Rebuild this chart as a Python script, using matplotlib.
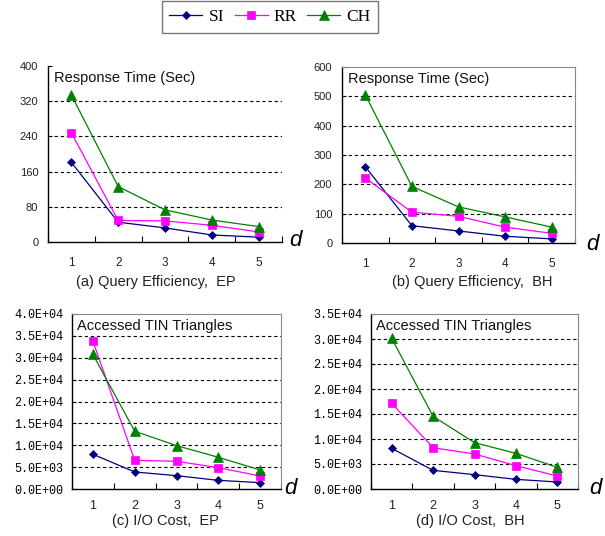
import matplotlib
matplotlib.use('Agg')
import matplotlib.pyplot as plt
from matplotlib.ticker import FuncFormatter, MultipleLocator
import numpy as np

# category values d = 1..5
d_values = [1, 2, 3, 4, 5]
series_names = ['SI', 'RR', 'CH']

# (a) response time, EP
time_ep_si = [181, 45, 32, 16, 11]
time_ep_rr = [248, 49, 48, 38, 23]
time_ep_ch = [334, 126, 73, 50, 35]

# (b) response time, BH
time_bh_si = [260, 59, 41, 23, 14]
time_bh_rr = [222, 105, 91, 54, 33]
time_bh_ch = [505, 193, 123, 89, 54]

# (c) accessed triangles, EP
io_ep_si = [7940, 3890, 3050, 1980, 1450]
io_ep_rr = [33800, 6560, 6330, 4880, 2980]
io_ep_ch = [30760, 13200, 9920, 7250, 4350]

# (d) accessed triangles, BH
io_bh_si = [8130, 3730, 2870, 1930, 1400]
io_bh_rr = [17130, 8270, 7000, 4670, 2600]
io_bh_ch = [30130, 14530, 9270, 7130, 4330]

W, H = 605, 536
colors = ['#000080', '#FF00FF', '#008000']
markers = ['D', 's', '^']
msizes = [4.5, 6, 6.5]


def px_axes(fig, left, right, top, bottom):
    return fig.add_axes([left / W, 1 - bottom / H, (right - left) / W, (bottom - top) / H])


def sci_fmt(v, pos):
    if v == 0:
        return '0.0E+00'
    exp = int(np.floor(np.log10(abs(v))))
    return '%.1fE+%02d' % (v / 10 ** exp, exp)


def draw_panel(ax, data, ymax, ystep, inner_title, sci, boxed):
    for vals, c, m, ms in zip(data, colors, markers, msizes):
        ax.plot(d_values, vals, color=c, marker=m, markersize=ms, lw=0.9,
                markeredgewidth=0.5, zorder=3)
    ax.set_xlim(0.5, 5.5)
    ax.set_ylim(0, ymax)
    ax.yaxis.set_major_locator(MultipleLocator(ystep))
    for g in np.arange(ystep, ymax, ystep):
        ax.axhline(g, color='black', lw=0.8, ls=(0, (3, 2.5)), zorder=1)
    ax.set_xticks(d_values)
    ax.set_xticks([0.5, 1.5, 2.5, 3.5, 4.5, 5.5], minor=True)
    ax.tick_params(axis='x', which='minor', length=4, direction='in', width=0.8)
    ax.tick_params(axis='y', length=3, direction='in', width=0.8)
    if sci:
        ax.yaxis.set_major_formatter(FuncFormatter(sci_fmt))
        for lab in ax.get_yticklabels():
            lab.set_fontfamily('Liberation Mono')
        ax.tick_params(axis='y', labelsize=8.5, pad=6)
        ax.tick_params(axis='x', which='major', length=0, pad=8, labelsize=9, labelcolor='#222222')
    else:
        ax.tick_params(axis='y', labelsize=8, pad=7, labelcolor='#222222')
        ax.tick_params(axis='x', which='major', length=0, pad=11, labelsize=8.5, labelcolor='#222222')
    for s in ['left', 'bottom']:
        ax.spines[s].set_linewidth(1.0)
    if boxed:
        for s in ['top', 'right']:
            ax.spines[s].set_color('#888888')
            ax.spines[s].set_linewidth(0.8)
    else:
        ax.spines['top'].set_visible(False)
        ax.spines['right'].set_visible(False)
    ax.text(0.025, 0.97, inner_title, transform=ax.transAxes, ha='left', va='top',
            fontsize=10.5, family='Liberation Sans', color='#111111')


fig = plt.figure(figsize=(W / 100, H / 100), dpi=100)
plt.rcParams['font.family'] = ['Liberation Sans', 'DejaVu Sans']

ax_a = px_axes(fig, 48, 282, 66, 242)
draw_panel(ax_a, [time_ep_si, time_ep_rr, time_ep_ch], 400, 80, 'Response Time (Sec)', False, False)
ax_b = px_axes(fig, 342, 575, 67, 243)
draw_panel(ax_b, [time_bh_si, time_bh_rr, time_bh_ch], 600, 100, 'Response Time (Sec)', False, True)
ax_c = px_axes(fig, 72, 281, 314, 489)
draw_panel(ax_c, [io_ep_si, io_ep_rr, io_ep_ch], 40000, 5000, 'Accessed TIN Triangles', True, True)
ax_d = px_axes(fig, 371, 578, 314, 489)
draw_panel(ax_d, [io_bh_si, io_bh_rr, io_bh_ch], 35000, 5000, 'Accessed TIN Triangles', True, True)

# axis letter d
for x, y in [(295, 240), (592, 245), (290, 488), (595, 488)]:
    fig.text(x / W, 1 - y / H, 'd', fontsize=16, style='italic', ha='center', va='center')

# captions
captions = [(156, 282, '(a) Query Efficiency,  EP'),
            (472, 282, '(b) Query Efficiency,  BH'),
            (165, 521, '(c) I/O Cost,  EP'),
            (470, 521, '(d) I/O Cost,  BH')]
for x, y, t in captions:
    fig.text(x / W, 1 - y / H, t, fontsize=10.5, ha='center', va='center', color='#222222')

handles = ax_a.get_lines()[:3]
leg = fig.legend(handles, series_names, loc='upper center', bbox_to_anchor=(270 / W, 1 - 1 / H),
                 ncol=3, frameon=True, fancybox=False, edgecolor='#555555',
                 prop={'family': 'Liberation Serif', 'size': 12.5},
                 handlelength=1.9, columnspacing=0.6, handletextpad=0.35,
                 borderpad=0.45, borderaxespad=0)
leg.get_frame().set_linewidth(1.0)

fig.savefig('out.png', dpi=100)
